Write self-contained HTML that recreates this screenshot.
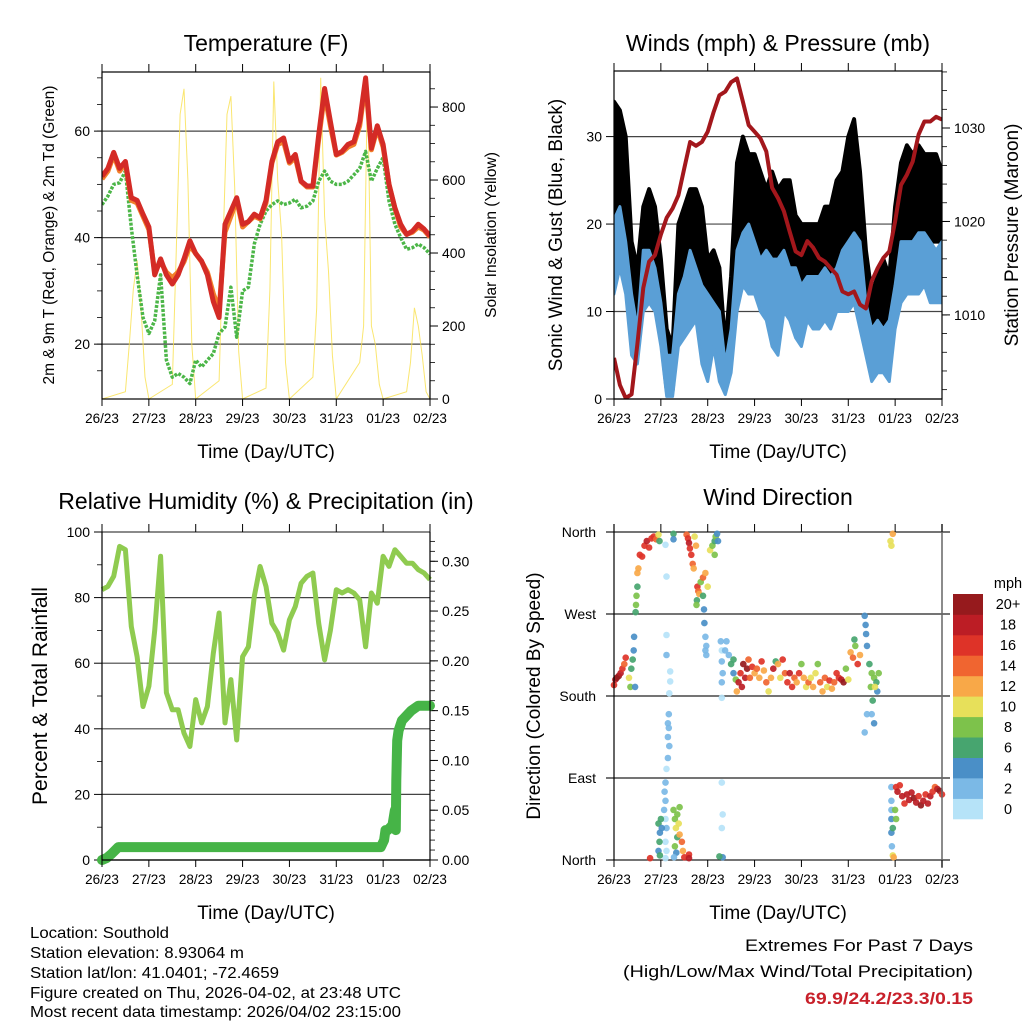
<!DOCTYPE html>
<html><head><meta charset="utf-8"><style>
html,body{margin:0;padding:0;background:#fff;}
svg{display:block;font-family:"Liberation Sans",sans-serif;}
</style></head><body>
<svg id="chart" width="1024" height="1024" viewBox="0 0 1024 1024" xmlns="http://www.w3.org/2000/svg">
<rect width="1024" height="1024" fill="#fff"/>
<g id="p1"></g>
<g id="p2"></g>
<g id="p3"></g>
<g id="p4"></g>
<g font-size="16" fill="#000">
<text x="30" y="938" textLength="139" lengthAdjust="spacingAndGlyphs">Location: Southold</text>
<text x="30" y="958" textLength="214" lengthAdjust="spacingAndGlyphs">Station elevation: 8.93064 m</text>
<text x="30" y="978" textLength="249" lengthAdjust="spacingAndGlyphs">Station lat/lon: 41.0401; -72.4659</text>
<text x="30" y="998" textLength="371" lengthAdjust="spacingAndGlyphs">Figure created on Thu, 2026-04-02, at 23:48 UTC</text>
<text x="30" y="1017" textLength="371" lengthAdjust="spacingAndGlyphs">Most recent data timestamp: 2026/04/02 23:15:00</text>
</g>
<g font-size="17" text-anchor="end">
<text x="973" y="951" textLength="228" lengthAdjust="spacingAndGlyphs">Extremes For Past 7 Days</text>
<text x="973" y="977" textLength="350" lengthAdjust="spacingAndGlyphs">(High/Low/Max Wind/Total Precipitation)</text>
<text x="973" y="1004" fill="#c8202a" font-weight="bold" textLength="168" lengthAdjust="spacingAndGlyphs">69.9/24.2/23.3/0.15</text>
</g>
</svg>
<script>
// ---------- DATA ----------
const dayLabels=["26/23","27/23","28/23","29/23","30/23","31/23","01/23","02/23"];
const t3=[0,0.125,0.25,0.375,0.5,0.625,0.75,0.875,1,1.125,1.25,1.375,1.5,1.625,1.75,1.875,2,2.125,2.25,2.375,2.5,2.625,2.75,2.875,3,3.125,3.25,3.375,3.5,3.625,3.75,3.875,4,4.125,4.25,4.375,4.5,4.625,4.75,4.875,5,5.125,5.25,5.375,5.5,5.625,5.75,5.875,6,6.125,6.25,6.375,6.5,6.625,6.75,6.875,7];
const temp2m=[51.5,53,56,53,54.3,47.5,47,44.4,42,33,36,33,31.3,33,36,39.4,37,35.6,33,28,25,42.5,45,47.5,42.5,43,44.4,43.7,47,54.3,58,58.7,54.3,55.6,50.6,49.7,49.7,59.3,68,61.8,55.6,56.2,57.5,58,61.8,70,56.8,61,57.5,50,45.6,42.5,40.6,41.2,42.5,41.6,40.3];
const temp9m=[51,52.5,55.5,52.5,54,47,46.5,44,41.5,33.5,35.5,33.5,32.5,33.5,35.5,38.5,37,35.5,33.5,29.5,26.5,41,44,47,42,43,44,43.5,46.5,54,57.5,58,54,55,50.5,49.5,49.5,58.5,67,61,55.5,56,57,57.5,61,69,56.5,60.5,57,50,45.5,42,40.6,41,42,41.4,40.1];
const dewpt=[46.2,47.8,50,50.3,52.5,41.9,33,25,22,24.4,33,17,13.8,14.5,13.8,12.6,17,15.7,17,18.2,22,23.2,30.7,21.3,30,30.7,38.8,42.5,45,46.2,46.9,46.2,46.5,47.2,45.6,45.9,46.9,50.6,52.5,50.6,50,50,50.6,51.8,53,56.2,50.6,53,55,46.9,42.5,40,37.8,38.1,38.8,38.1,36.9];
const solarTime=[0,0.5,0.583,0.667,0.75,0.833,0.917,1,1.5,1.583,1.667,1.75,1.833,1.917,2,2.5,2.583,2.667,2.75,2.833,2.917,3,3.5,3.583,3.667,3.75,3.833,3.917,4,4.5,4.583,4.667,4.75,4.833,4.917,5,5.5,5.583,5.667,5.75,5.833,5.917,6,6.5,6.583,6.667,6.75,6.833,6.917,7];
const solar=[0,20,150,300,380,250,60,0,40,400,780,850,600,150,0,50,420,780,830,580,130,0,30,300,870,600,450,100,0,60,250,880,500,350,120,0,100,200,880,200,150,40,0,20,100,250,200,120,20,0];
const pressure=[1005.4,1002.5,1001.1,1001.5,1006.9,1012.9,1015.7,1016.4,1018.6,1020.4,1021.4,1022.8,1025.7,1028.5,1028.1,1028.5,1029.6,1031.7,1033.5,1033.9,1034.9,1035.3,1032.8,1030.3,1029.6,1028.9,1027.5,1023.6,1022.5,1021.1,1018.9,1016.8,1016.4,1017.9,1017.2,1016.1,1015.7,1015,1014.3,1012.5,1012.2,1012.5,1011.1,1010.7,1013.6,1015,1016.1,1016.8,1020,1023.9,1025,1026.4,1029.3,1030.7,1030.7,1031.2,1030.9];
const windHigh=[20.5,22,18,12,8,17,17,15,11,5,5,12,14,17,15,13,12,11,10,4,8,17,19,20,18,16,17,16,16,17,15,15,13,14,14,14,15,14,15,17,18,19,18,11,8,9,8,9,13,18,18,18,19,19,18,17,18];
const windLow=[12,15,12,5,4,10,11,10,6,0.3,0.3,6,7,8,9,4,2,6,2,0.5,3,10,13,12,12,10,9,6,5,10,9,7,6,9,8,8,9,8,10,10,10,11,8,5,2,3,3,2,8,11,12,12,12,13,11,11,11];
const gustHigh=[34,33,30,18,15,22,24,22,16,8,6,20,22,24,24,22,16,17,15,6,14,27,30,28,28,26,24,26,24,25,25,21,20,20,20,20,22,22,25,26,30,32,26,17,12,14,16,14,22,27,29,28,29,28,28,28,26];
const gustLow=[18,20,15,8,8,14,14,12,7,1,1,8,10,12,12,8,4,8,3,2,4,16,18,17,16,14,13,12,12,14,13,10,10,12,12,12,14,13,15,15,16,17,12,8,3,5,5,3,12,17,18,18,18,18,18,18,18];
const rh=[82.4,83.4,86.5,95.6,94.6,71.2,62,46.8,53,70,92.6,51,45.8,45.8,38.7,34.6,48.9,41.8,46.8,63,75.3,41.8,55,36.6,62,65,80.4,89.5,83.4,72.2,69.2,64,73.2,77.3,84.4,86.5,87.5,72.2,61,70,82.4,81.4,82.4,81.4,79.3,65,81.4,78.3,92.6,89.5,94.6,92.6,90.5,90.5,88.5,87.5,85.5];
const precipTime=[0,0.1,0.2,0.35,5.95,6.02,6.05,6.1,6.2,6.25,6.27,6.28,6.3,6.33,6.4,6.5,6.6,6.75,7];
const precipVal=[0,0.002,0.006,0.013,0.013,0.02,0.03,0.03,0.035,0.05,0.03,0.08,0.12,0.13,0.14,0.145,0.15,0.155,0.155];
// wind direction: [day, degrees, speed mph]
const dirObs=[[0,192,16],[0.03,198,18],[0.06,200,20],[0.1,202,20],[0.14,205,19],[0.18,210,16],[0.22,215,14],[0.25,222,16],
[0.32,200,10],[0.35,190,8],[0.37,210,6],[0.4,220,6],[0.42,230,4],[0.43,245,4],[0.45,190,4],
[0.46,272,6],[0.47,280,8],[0.48,290,8],[0.5,300,6],[0.5,315,12],[0.52,320,12],
[0.55,335,16],[0.6,333,17],[0.65,345,16],[0.7,350,18],[0.75,343,16],[0.8,353,17],[0.85,355,17],[0.9,352,14],[0.95,357,10],[0.97,350,6],
[1.1,346,1],[1.12,311,1],[1.12,247,1],[1.12,225,2],[1.2,207,1],[1.2,196,1],[1.18,183,1],[1.17,160,3],[1.15,150,2],[1.17,145,2],[1.15,135,3],[1.18,125,3],[1.15,112,2],[1.12,100,1],[1.1,85,3],[1.08,75,2],[1.1,65,2],[1.07,55,2],[1.1,45,1],[1.12,35,2],[1.1,20,1],[1.12,10,1],[1.1,2,1],
[0.77,2,16],[0.95,40,6],[0.98,30,5],[0.97,20,6],[0.95,10,4],[0.98,5,6],[1.0,45,6],[1.02,35,5],
[1.27,55,8],[1.3,45,8],[1.32,35,10],[1.35,25,6],[1.3,15,8],[1.35,50,8],[1.38,40,10],[1.4,28,12],[1.45,20,14],[1.47,10,12],[1.5,3,16],[1.6,6,16],[1.6,2,18],[1.33,8,4],[1.28,3,3],[1.4,58,8],
[1.27,358,6],[1.27,352,4],
[1.55,357,14],[1.58,353,16],[1.6,348,18],[1.62,342,16],[1.65,335,16],[1.68,325,14],[1.7,320,12],[1.72,355,10],[1.75,345,12],
[1.78,300,16],[1.8,295,14],[1.77,285,6],[1.76,280,8],[1.82,292,12],[1.85,305,8],[1.9,310,14],[1.95,315,12],[2.0,300,10],[1.9,290,6],[1.92,275,4],[1.93,260,4],[1.95,245,2],[1.97,235,3],[1.97,225,2],[1.95,230,2],
[2.05,340,10],[2.1,345,8],[2.15,350,6],[2.17,355,8],[2.2,358,4],[2.22,350,4],[2.15,335,8],
[2.28,240,2],[2.3,230,1],[2.3,218,2],[2.32,205,3],[2.3,195,2],[2.3,178,1],[2.3,85,1],[2.32,50,1],[2.3,35,1],[2.32,3,4],[2.25,4,6],
[2.37,230,2],[2.4,240,2],[2.45,225,3],[2.5,215,6],[2.55,220,6],[2.55,205,4],[2.6,198,8],
[2.62,185,12],[2.66,195,18],[2.7,205,16],[2.73,190,18],[2.76,215,20],[2.8,200,19],[2.84,210,20],[2.87,220,14],[2.9,200,14],[2.95,212,16],[3.0,205,12],[3.05,210,14],[3.1,200,12],[3.15,218,16],[3.2,208,12],[3.25,195,14],[3.3,185,10],[3.35,200,12],[3.4,210,18],[3.45,218,6],[3.5,215,12],[3.55,200,10],[3.6,220,17],[3.65,205,14],[3.7,195,16],[3.75,205,18],[3.8,190,16],[3.85,200,14],[3.9,195,12],[3.95,205,16],[4.0,215,8],[4.05,200,12],[4.1,190,10],[4.15,195,14],[4.2,200,10],[4.25,190,12],[4.3,205,10],[4.35,215,8],[4.4,195,14],[4.45,185,12],[4.5,200,14],[4.55,190,10],[4.6,197,16],[4.65,188,12],[4.7,195,14],[4.75,205,17],[4.8,200,16],[4.85,198,18],[4.9,195,20],[4.95,210,8],[5.0,198,10],
[5.05,228,12],[5.1,222,14],[5.13,242,6],[5.15,235,8],[5.2,215,16],[5.25,225,12],
[5.35,268,4],[5.37,258,4],[5.38,248,4],[5.4,235,4],[5.45,215,6],[5.5,205,8],[5.48,190,8],[5.52,175,6],[5.55,200,8],[5.5,160,2],[5.55,150,4],[5.4,160,3],[5.35,140,2],[5.6,195,6],[5.65,205,8],[5.62,185,4],[5.57,190,10],
[5.9,350,10],[5.95,358,12],[5.92,345,10],
[5.92,80,2],[5.92,65,2],[5.92,55,2],[5.92,45,4],[5.92,30,4],[5.93,15,2],[5.95,5,10],[5.97,3,12],[5.95,35,6],[6.0,55,8],[6.02,45,8],
[6.02,80,16],[6.05,75,18],[6.1,82,16],[6.15,70,18],[6.2,62,16],[6.25,72,19],[6.3,66,18],[6.35,74,18],[6.4,68,20],[6.45,63,18],[6.5,70,16],[6.55,60,20],[6.6,65,18],[6.65,72,16],[6.7,62,18],[6.75,70,19],[6.8,75,16],[6.85,80,14],[6.9,78,18],[6.95,76,20],[7.0,72,16]];
const speedLabels=["0","2","4","6","8","10","12","14","16","18","20+"];
const speedColors=["#b6e3f8","#7bb9e6","#4a8fc7","#47a56f","#7dc24b","#e7e05a","#f8a848","#f06530","#de3328","#bc1d25","#961a1d"];
const dirLabels=["North","East","South","West","North"];
const dirTicks=[0,90,180,270,360];

// ---------- HELPERS ----------
const NS="http://www.w3.org/2000/svg";
function mk(parent,tag,attrs,txt){const e=document.createElementNS(NS,tag);for(const k in attrs)e.setAttribute(k,attrs[k]);if(txt!==undefined)e.textContent=txt;parent.appendChild(e);return e;}
function lin(d0,d1,r0,r1){return v=>r0+(v-d0)/(d1-d0)*(r1-r0);}
function pathOf(xs,ys,fx,fy){return xs.map((x,i)=>(i?'L':'M')+fx(x).toFixed(1)+','+fy(ys[i]).toFixed(1)).join('');}
function bandOf(xs,hi,lo,fx,fy){let d=xs.map((x,i)=>(i?'L':'M')+fx(x).toFixed(1)+','+fy(hi[i]).toFixed(1)).join('');for(let i=xs.length-1;i>=0;i--)d+='L'+fx(xs[i]).toFixed(1)+','+fy(lo[i]).toFixed(1);return d+'Z';}

function timeAxis(g,fx,y0,y1,top,xlab){
  dayLabels.forEach((lab,i)=>{
    const x=fx(i);
    const tk=mk(g,'line',{x1:x,x2:x,y1:y1,y2:y1+7,stroke:'#000','stroke-width':1});
    
    
    if(top){const tt=mk(g,'line',{x1:x,x2:x,y1:y0,y2:y0-8,stroke:'#000','stroke-width':1});
      
      }
    const t=mk(g,'text',{x:x,y:y1+24,'font-size':13.5,'text-anchor':'middle'},lab);
    
    
  });
  const xt=mk(g,'text',{x:(fx(0)+fx(7))/2,y:y1+59,'font-size':19,'text-anchor':'middle'},xlab);
  
  
}
function yTicks(g,fy,vals,labs,x,side,grid,x0,x1,minor){
  if(minor)minor.forEach(v=>{const yy=fy(v);const m=mk(g,'line',{x1:x,x2:x+(side<0?-5:5),y1:yy,y2:yy,stroke:'#000','stroke-width':0.8});
    
    });
  vals.forEach((v,i)=>{
    const yy=fy(v);
    if(grid){const gl=mk(g,'line',{x1:x0,x2:x1,y1:yy,y2:yy,stroke:'#444','stroke-width':1.2});
      
      }
    const tk=mk(g,'line',{x1:x,x2:x+(side<0?-8:8),y1:yy,y2:yy,stroke:'#000','stroke-width':1});
    
    
    const t=mk(g,'text',{x:x+(side<0?-12:12),y:yy+5,'font-size':14,'text-anchor':side<0?'end':'start'},labs[i]);
    
    
  });
}
function rotTitle(g,x,y,txt,size,name){const t=mk(g,'text',{x:0,y:0,'font-size':size,'text-anchor':'middle',transform:`translate(${x},${y}) rotate(-90)`},txt);
  
  }
function title(g,x,y,txt){const t=mk(g,'text',{x:x,y:y,'font-size':23,'text-anchor':'middle'},txt);
  
  }
function range(a,b,s){const r=[];for(let v=a;v<=b+1e-9;v+=s)r.push(+v.toFixed(4));return r;}

// ---------- PANEL 1: TEMPERATURE ----------
(function(){
  const g=document.getElementById('p1');
  const L=102,R=430,T=72,B=399;
  const fx=lin(0,7,L,R), fy=lin(9.7,71.1,B,T), fs=lin(0,896,B,T);
  title(g,266,51,'Temperature (F)');
  const cp=mk(g,'clipPath',{id:'c1'});mk(cp,'rect',{x:L,y:T,width:R-L,height:B-T});
  yTicks(g,fy,[20,40,60],['20','40','60'],L,-1,true,L,R,range(15,70,5));
  yTicks(g,fs,[0,200,400,600,800],['0','200','400','600','800'],R,1,false,0,0,range(50,850,50));
  const pc=mk(g,'g',{'clip-path':'url(#c1)'});
  const s=mk(pc,'path',{d:pathOf(solarTime,solar,fx,fs),fill:'none',stroke:'#f9e04c','stroke-width':1,opacity:0.8});
  
  
  const d=mk(pc,'path',{d:pathOf(t3,dewpt,fx,fy),fill:'none',stroke:'#4cb648','stroke-width':3.5,'stroke-dasharray':'3 1.5','stroke-linejoin':'round'});
  
  
  const o=mk(pc,'path',{d:pathOf(t3,temp9m,fx,fy),fill:'none',stroke:'#f27f2a','stroke-width':5,'stroke-linejoin':'round'});
  
  
  const r=mk(pc,'path',{d:pathOf(t3,temp2m,fx,fy),fill:'none',stroke:'#d42b26','stroke-width':5,'stroke-linejoin':'round'});
  
  
  const f=mk(g,'rect',{x:L,y:T,width:R-L,height:B-T,fill:'none',stroke:'#000','stroke-width':1.2});
  
  
  timeAxis(g,fx,T,B,true,'Time (Day/UTC)');
  rotTitle(g,54,235,'2m & 9m T (Red, Orange) & 2m Td (Green)',15.5,'y-axis-title-left');
  rotTitle(g,496,235,'Solar Insolation (Yellow)',15.5,'y-axis-title-right');
})();

// ---------- PANEL 2: WINDS ----------
(function(){
  const g=document.getElementById('p2');
  const L=614,R=942,T=71,B=399;
  const fx=lin(0,7,L,R), fy=lin(0,37.5,B,T), fp=lin(1001,1036.1,B,T);
  title(g,778,51,'Winds (mph) & Pressure (mb)');
  const cp=mk(g,'clipPath',{id:'c2'});mk(cp,'rect',{x:L,y:T,width:R-L,height:B-T});
  yTicks(g,fy,[0,10,20,30],['0','10','20','30'],L,-1,true,L,R,null);
  yTicks(g,fp,[1010,1020,1030],['1010','1020','1030'],R,1,false,0,0,range(1002,1036,2));
  const pc=mk(g,'g',{'clip-path':'url(#c2)'});
  const gb=mk(pc,'path',{d:bandOf(t3,gustHigh,gustLow,fx,fy),fill:'#000',stroke:'#000','stroke-width':4,'stroke-linejoin':'round'});
  
  
  const wb=mk(pc,'path',{d:bandOf(t3,windHigh,windLow,fx,fy),fill:'#5a9fd6',stroke:'#5a9fd6','stroke-width':3,'stroke-linejoin':'round'});
  
  
  const p=mk(pc,'path',{d:pathOf(t3,pressure,fx,fp),fill:'none',stroke:'#a3171c','stroke-width':4,'stroke-linejoin':'round'});
  
  
  const f=mk(g,'rect',{x:L,y:T,width:R-L,height:B-T,fill:'none',stroke:'#000','stroke-width':1.2});
  
  
  timeAxis(g,fx,T,B,true,'Time (Day/UTC)');
  rotTitle(g,562,235,'Sonic Wind & Gust (Blue, Black)',19,'y-axis-title-left');
  rotTitle(g,1018,235,'Station Pressure (Maroon)',19,'y-axis-title-right');
})();

// ---------- PANEL 3: HUMIDITY ----------
(function(){
  const g=document.getElementById('p3');
  const L=102,R=430,T=532,B=860;
  const fx=lin(0,7,L,R), fy=lin(0,100,B,T), fr=lin(0,0.3294,B,T);
  title(g,266,509,'Relative Humidity (%) & Precipitation (in)');
  yTicks(g,fy,[0,20,40,60,80,100],['0','20','40','60','80','100'],L,-1,true,L,R,range(10,90,20));
  yTicks(g,fr,[0,0.05,0.1,0.15,0.2,0.25,0.3],['0.00','0.05','0.10','0.15','0.20','0.25','0.30'],R,1,false,0,0,range(0.01,0.32,0.01));
  const cp=mk(g,'clipPath',{id:'c3'});mk(cp,'rect',{x:L-6,y:T,width:R-L+12,height:B-T+6});
  const pc=mk(g,'g',{'clip-path':'url(#c3)'});
  const h=mk(pc,'path',{d:pathOf(t3,rh,fx,fy),fill:'none',stroke:'#8fcb50','stroke-width':5,'stroke-linejoin':'round'});
  
  
  const pr=mk(pc,'path',{d:pathOf(precipTime,precipVal,fx,fr),fill:'none',stroke:'#46b447','stroke-width':10,'stroke-linejoin':'round','stroke-linecap':'round'});
  
  
  const lf=mk(g,'line',{x1:L,x2:L,y1:T,y2:B,stroke:'#000','stroke-width':1.2});
  
  
  const rf=mk(g,'line',{x1:R,x2:R,y1:T,y2:B,stroke:'#000','stroke-width':1.2});
  
  
  const bf=mk(g,'line',{x1:L,x2:R,y1:B,y2:B,stroke:'#000','stroke-width':1.2});
  
  
  timeAxis(g,fx,T,B,true,'Time (Day/UTC)');
  rotTitle(g,47,696,'Percent & Total Rainfall',21,'y-axis-title-left');
})();

// ---------- PANEL 4: WIND DIRECTION ----------
(function(){
  const g=document.getElementById('p4');
  const L=614,R=942,T=532,B=860;
  const fx=lin(0,7,L,R), fy=lin(0,360,B,T);
  title(g,778,505,'Wind Direction');
  dirTicks.forEach((v,i)=>{
    const yy=fy(v);
    const gl=mk(g,'line',{x1:606,x2:950,y1:yy,y2:yy,stroke:'#222','stroke-width':1.2});
    
    
    const t=mk(g,'text',{x:596,y:yy+5,'font-size':14,'text-anchor':'end'},dirLabels[i]);
    
    
  });
  dirObs.forEach(o=>{
    const ci=Math.min(10,Math.floor(o[2]/2));
    const c=mk(g,'circle',{cx:fx(o[0]).toFixed(1),cy:fy(o[1]).toFixed(1),r:3.3,fill:speedColors[ci],opacity:0.92});
    
    
  });
  const la=mk(g,'line',{x1:L,x2:L,y1:T-8,y2:B,stroke:'#000','stroke-width':1.2});
  
  
  const ra=mk(g,'line',{x1:R,x2:R,y1:T-8,y2:B+8,stroke:'#666','stroke-width':1.5});
  
  
  timeAxis(g,fx,T,B,true,'Time (Day/UTC)');
  rotTitle(g,540,696,'Direction (Colored By Speed)',19,'y-axis-title-left');
  const lg=mk(g,'g',{});
  
  
  const bh=(819-594)/speedColors.length;
  speedColors.forEach((c,i)=>{
    const y=819-(i+1)*bh;
    const r=mk(lg,'rect',{x:953,y:y.toFixed(1),width:30,height:(bh+0.3).toFixed(1),fill:c});
    
    
    const t=mk(lg,'text',{x:1008,y:(y+bh/2+5).toFixed(1),'font-size':14.5,'text-anchor':'middle'},speedLabels[i]);
    
    
  });
  const u=mk(lg,'text',{x:1008,y:588,'font-size':14.5,'text-anchor':'middle'},'mph');
  
  
})();
</script>
</body></html>
